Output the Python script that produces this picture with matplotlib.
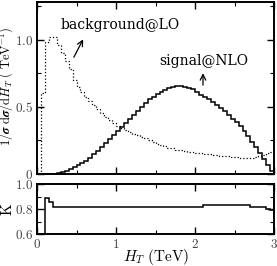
import numpy as np
import matplotlib
matplotlib.use("Agg")
import matplotlib.pyplot as plt
from matplotlib.ticker import MultipleLocator

plt.rcParams['font.family'] = 'serif'
plt.rcParams['font.serif'] = ['DejaVu Serif']
plt.rcParams['mathtext.fontset'] = 'cm'

# bin edges in TeV, 0.05 wide
edges = np.linspace(0, 3, 61)

# signal@NLO, normalised distribution
signal = [0, 0, 0, 0, 0.003, 0.008, 0.015, 0.025, 0.035, 0.05,
          0.065, 0.08, 0.10, 0.12, 0.145, 0.17, 0.20, 0.23, 0.26, 0.29,
          0.32, 0.35, 0.38, 0.41, 0.44, 0.47, 0.50, 0.53, 0.555, 0.575,
          0.595, 0.61, 0.625, 0.64, 0.65, 0.655, 0.655, 0.65, 0.64, 0.63,
          0.61, 0.59, 0.575, 0.555, 0.535, 0.51, 0.49, 0.465, 0.44, 0.41,
          0.385, 0.355, 0.32, 0.28, 0.24, 0.20, 0.155, 0.11, 0.065, 0.025]

# background@LO
background = [0.0, 0.60, 0.98, 1.02, 1.02, 0.96, 0.90, 0.84, 0.78, 0.70,
              0.65, 0.61, 0.57, 0.54, 0.51, 0.48, 0.45, 0.42, 0.40, 0.38,
              0.36, 0.345, 0.33, 0.315, 0.30, 0.29, 0.275, 0.265, 0.25, 0.235,
              0.225, 0.215, 0.205, 0.195, 0.19, 0.18, 0.175, 0.17, 0.165, 0.16,
              0.158, 0.155, 0.15, 0.147, 0.143, 0.14, 0.137, 0.133, 0.13, 0.127,
              0.125, 0.122, 0.12, 0.12, 0.122, 0.125, 0.13, 0.14, 0.155, 0.165]

# K factor
kfac = [0, 0, 0.885, 0.855, 0.815, 0.815, 0.815, 0.815, 0.815, 0.815,
        0.815, 0.82, 0.815, 0.815, 0.815, 0.815, 0.815, 0.815, 0.815, 0.815,
        0.815, 0.815, 0.82, 0.815, 0.815, 0.82, 0.82, 0.82, 0.82, 0.82,
        0.82, 0.82, 0.82, 0.82, 0.82, 0.82, 0.82, 0.82, 0.82, 0.82,
        0.82, 0.82, 0.83, 0.83, 0.83, 0.83, 0.83, 0.83, 0.83, 0.83,
        0.83, 0.83, 0.83, 0.83, 0.82, 0.82, 0.82, 0.82, 0.80, 0.79]

main_yticks = [0, 0.5, 1.0]
main_ylabels = ['$0$', '$0.5$', '$1.0$']
k_yticks = [0.6, 0.8, 1.0]
k_ylabels = ['$0.6$', '$0.8$', '$1.0$']
xticks = [0, 1, 2, 3]
xlabels = ['$0$', '$1$', '$2$', '$3$']

fig = plt.figure(figsize=(2.77, 2.66), dpi=100)
ax = fig.add_axes([0.1336, 0.346, 0.856, 0.647])
ax2 = fig.add_axes([0.1336, 0.120, 0.856, 0.188])

ax.stairs(signal, edges, color='black', lw=1.1)
ax.stairs(background, edges, color='black', lw=0.9, ls=':')
ax.set_xlim(0, 3)
ax.set_ylim(0, 1.28)
ax.set_xticks(xticks)
ax.set_xticklabels([])
ax.xaxis.set_minor_locator(MultipleLocator(0.5))
ax.set_yticks(main_yticks)
ax.set_yticklabels(main_ylabels)
ax.yaxis.set_minor_locator(MultipleLocator(0.25))
ax.set_ylabel(r'$1/\boldsymbol{\sigma}\ \mathrm{d}\boldsymbol{\sigma}'
              r'/\mathrm{d}\boldsymbol{H_T}\ \mathrm{(\ TeV^{-1})}$',
              fontsize=9)
ax.yaxis.set_label_coords(-0.132, 0.51)

ax.text(0.30, 1.11, 'background@LO', fontsize=10, va='center', ha='left')
ax.annotate('', xy=(0.60, 1.02), xytext=(0.45, 0.85),
            arrowprops=dict(arrowstyle='->', color='black', lw=0.9))
ax.text(2.11, 0.84, 'signal@NLO', fontsize=10, va='center', ha='center')
ax.annotate('', xy=(2.10, 0.77), xytext=(2.10, 0.64),
            arrowprops=dict(arrowstyle='->', color='black', lw=0.9))

ax2.stairs(kfac, edges, color='black', lw=1.1)
ax2.set_xlim(0, 3)
ax2.set_ylim(0.6, 1.0)
ax2.set_xticks(xticks)
ax2.set_xticklabels(xlabels)
ax2.xaxis.set_minor_locator(MultipleLocator(0.5))
ax2.set_yticks(k_yticks)
ax2.set_yticklabels(k_ylabels)
ax2.yaxis.set_minor_locator(MultipleLocator(0.1))
ax2.set_ylabel(r'$\mathrm{K}$', fontsize=11)
ax2.yaxis.set_label_coords(-0.125, 0.5)
ax2.set_xlabel(r'$\boldsymbol{H_T}\ \mathrm{(TeV)}$', fontsize=11)
ax2.xaxis.set_label_coords(0.5, -0.46)
ax2.xaxis.label.set_va('center')
ax.yaxis.label.set_va('center')
ax2.yaxis.label.set_va('center')

for a in (ax, ax2):
    a.tick_params(which='both', direction='in', top=True, right=True,
                  labelleft=True, labelright=False, labelsize=9.5, pad=3,
                  labelcolor='#444444')
    a.tick_params(which='major', length=5, width=1)
    a.tick_params(which='minor', length=3, width=0.8)
    for s in a.spines.values():
        s.set_linewidth(1.4)

fig.savefig('out.png', dpi=100)
